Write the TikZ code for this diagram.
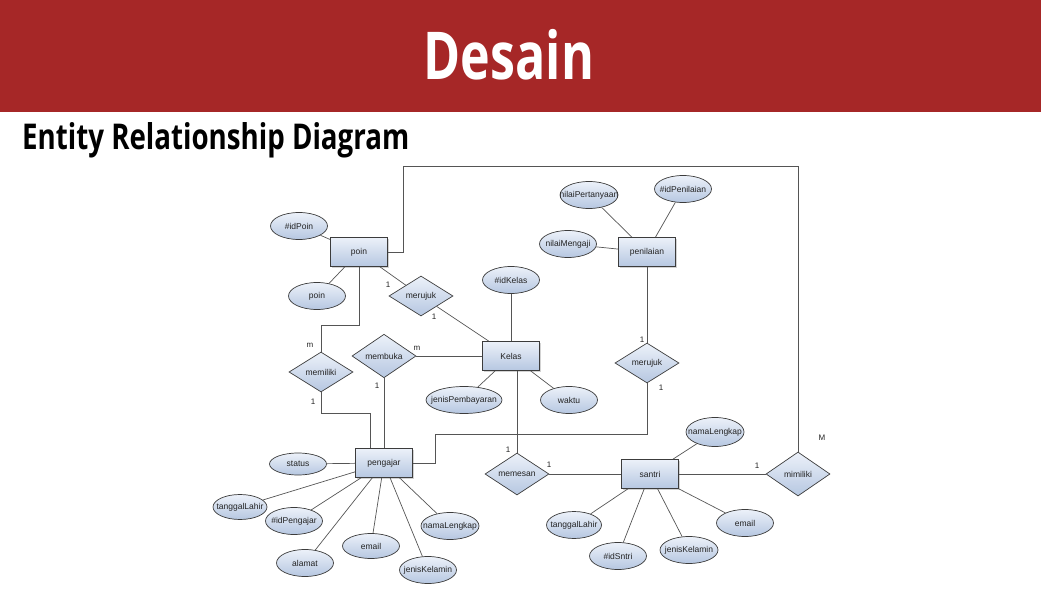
\documentclass[tikz,border=0pt]{standalone}
\usepackage{fontspec}
\setmainfont{Liberation Sans}
\newfontfamily\headfont[FakeStretch=0.76]{Open Sans}
\newfontfamily\subfont[FakeStretch=0.78]{Open Sans}
\usetikzlibrary{shapes.geometric,shadows}
\definecolor{headred}{RGB}{166,39,39}
\definecolor{linegray}{RGB}{85,85,85}
\definecolor{edgegray}{RGB}{60,60,60}
\definecolor{filltop}{RGB}{236,241,249}
\definecolor{fillbot}{RGB}{182,199,225}
\definecolor{txt}{RGB}{35,35,35}
\begin{document}
\begin{tikzpicture}[x=1pt,y=-1pt,
  ent/.style={rectangle, draw=edgegray, line width=0.8pt, top color=filltop, bottom color=fillbot,
    minimum width=57pt, minimum height=29pt, inner sep=0pt, text=txt,
    font=\fontsize{8.5}{9}\selectfont,
    drop shadow={shadow xshift=1.2pt, shadow yshift=-1.2pt, opacity=0.35}},
  lbl/.style={font=\fontsize{8.5}{9}\selectfont, text=txt, inner sep=0pt},
  attr/.style={ellipse, draw=edgegray, line width=0.7pt, top color=filltop, bottom color=fillbot,
    minimum width=57pt, minimum height=27pt, inner sep=0pt, label={[lbl]center:#1}},
  rel/.style={diamond, draw=edgegray, line width=0.7pt, top color=filltop, bottom color=fillbot,
    minimum width=64pt, minimum height=40pt, inner sep=0pt, text=txt,
    font=\fontsize{8.5}{9}\selectfont},
  conn/.style={draw=linegray, line width=0.7pt},
  card/.style={font=\fontsize{8}{9}\selectfont, text=txt, inner sep=0pt}]
\useasboundingbox (0,0) rectangle (1041,593);
% header
\fill[headred] (0,0) rectangle (1041,112);
\node[anchor=base, text=white, font=\headfont\bfseries\fontsize{66}{70}\selectfont, inner sep=0pt] (title) at (509,80) {Desain};
\node[anchor=base west, text=black, font=\subfont\bfseries\fontsize{35.5}{40}\selectfont, inner sep=0pt] (subtitle) at (22,150) {Entity Relationship Diagram};

% coordinates for bends
\coordinate (c1) at (403,166);
\coordinate (c2) at (321,325);
\coordinate (c3) at (370,413);
\coordinate (c4) at (435,434);

% relationships
\node[rel] (merujuk1) at (421,296) {merujuk};
\node[rel] (memiliki) at (321,372) {memiliki};
\node[rel] (membuka) at (384,356) {membuka};
\node[rel] (merujuk2) at (647,363) {merujuk};
\node[rel] (memesan) at (517,474) {memesan};
\node[rel, minimum height=44pt] (mimiliki) at (798,474) {mimiliki};

% entities
\node[ent] (poin) at (359,252) {poin};
\node[ent] (penilaian) at (647,252) {penilaian};
\node[ent] (kelas) at (511,356) {Kelas};
\node[ent] (pengajar) at (384,463) {pengajar};
\node[ent] (santri) at (650,474) {santri};

% attributes
\node[attr=\#idPoin] (idpoin) at (299,226) {};
\node[attr=poin] (poinattr) at (317,296) {};
\node[attr=nilaiPertanyaan, minimum width=58pt] (nilaiP) at (589,195) {};
\node[attr=\#idPenilaian] (idpen) at (683,189) {};
\node[attr=nilaiMengaji] (nilaiM) at (568,244) {};
\node[attr=\#idKelas] (idkelas) at (511,280) {};
\node[attr=jenisPembayaran, minimum width=76pt] (jenisP) at (464,400) {};
\node[attr=waktu] (waktu) at (569,400) {};
\node[attr=status, minimum height=22pt] (status) at (298,464) {};
\node[attr=tanggalLahir, minimum width=54pt, minimum height=25pt] (tglP) at (240,507) {};
\node[attr=\#idPengajar] (idpeng) at (294,521) {};
\node[attr=alamat] (alamat) at (305,563) {};
\node[attr=email, minimum height=25pt] (emailP) at (371,546) {};
\node[attr=jenisKelamin] (jkP) at (428,570) {};
\node[attr=namaLengkap, minimum width=58pt] (namaP) at (450,526) {};
\node[attr=namaLengkap, minimum width=58pt, minimum height=29pt] (namaS) at (715,432) {};
\node[attr=tanggalLahir, minimum width=55pt] (tglS) at (574,525) {};
\node[attr=\#idSntri] (idsantri) at (618,556) {};
\node[attr=jenisKelamin, minimum width=58pt] (jkS) at (689,550) {};
\node[attr=email] (emailS) at (745,523) {};

% connectors
\draw[conn] (idpoin) -- (poin);
\draw[conn] (poinattr) -- (poin);
\draw[conn] (poin) -- (merujuk1);
\draw[conn] (merujuk1) -- (kelas);
\draw[conn] (poin.east) -| (c1) -| (mimiliki.north);
\draw[conn] (poin.south) |- (c2) -- (memiliki.north);
\draw[conn] (memiliki.south) |- (c3) -- (c3 |- pengajar.north);
\draw[conn] (membuka) -- (kelas);
\draw[conn] (membuka.south) -- (membuka.south |- pengajar.north);
\draw[conn] (idkelas) -- (kelas);
\draw[conn] (jenisP) -- (kelas);
\draw[conn] (waktu) -- (kelas);
\draw[conn] (kelas.south -| memesan.north) -- (memesan.north);
\draw[conn] (memesan) -- (santri);
\draw[conn] (santri) -- (mimiliki);
\draw[conn] (pengajar.east) -| (c4) -| (merujuk2.south);
\draw[conn] (penilaian) -- (merujuk2);
\draw[conn] (nilaiP) -- (penilaian);
\draw[conn] (idpen) -- (penilaian);
\draw[conn] (nilaiM) -- (penilaian);
\draw[conn] (status) -- (pengajar);
\draw[conn] (tglP) -- (pengajar);
\draw[conn] (idpeng) -- (pengajar);
\draw[conn] (alamat) -- (pengajar);
\draw[conn] (emailP) -- (pengajar);
\draw[conn] (jkP) -- (pengajar);
\draw[conn] (namaP) -- (pengajar);
\draw[conn] (namaS) -- (santri);
\draw[conn] (tglS) -- (santri);
\draw[conn] (idsantri) -- (santri);
\draw[conn] (jkS) -- (santri);
\draw[conn] (emailS) -- (santri);

% cardinalities
\node[card] (k1) at (388,285) {1};
\node[card] (k2) at (434,317) {1};
\node[card] (k3) at (310,345) {m};
\node[card] (k4) at (313,402) {1};
\node[card] (k5) at (417,348) {m};
\node[card] (k6) at (377,386) {1};
\node[card] (k7) at (642,340) {1};
\node[card] (k8) at (661,388) {1};
\node[card] (k9) at (508,450) {1};
\node[card] (k10) at (549,465) {1};
\node[card] (k11) at (757,466) {1};
\node[card] (k12) at (822,438) {M};
\end{tikzpicture}
\end{document}
